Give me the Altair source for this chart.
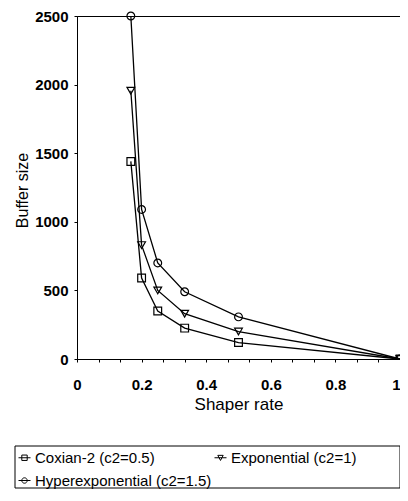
import altair as alt
import pandas as pd

# ---- data ----
shaper_rate = [1/6, 0.2, 0.25, 1/3, 0.5, 1.0]
coxian = [1440, 590, 350, 225, 120, 0]
exponential = [1955, 830, 500, 330, 200, 0]
hyperexp = [2500, 1090, 700, 490, 307, 0]

series_names = ["Coxian-2 (c2=0.5)", "Exponential (c2=1)", "Hyperexponential (c2=1.5)"]
x_ticks = [0, 1/15, 2/15, 0.2, 4/15, 5/15, 0.4, 7/15, 8/15, 0.6, 10/15, 11/15, 0.8, 13/15, 14/15, 1]
y_ticks = [0, 500, 1000, 1500, 2000, 2500]

rows = []
for name, vals in zip(series_names, [coxian, exponential, hyperexp]):
    for xv, yv in zip(shaper_rate, vals):
        rows.append({"rate": xv, "size": yv, "series": name})
df = pd.DataFrame(rows)

PLOT_W = 323
PLOT_H = 343

x_enc = alt.X("rate:Q", scale=alt.Scale(domain=[0, 1], nice=False),
              axis=alt.Axis(title="Shaper rate", values=x_ticks,
                            labelExpr="abs(datum.value*5 - round(datum.value*5)) < 0.001 ? format(datum.value, '~g') : ''",
                            labelAlign={"condition": {"test": "datum.value > 0.99", "value": "right"},
                                        "value": "center"},
                            labelOverlap=False,
                            tickSize=3, labelPadding=15, labelFontSize=15, labelFontWeight="bold",
                            titleFontSize=17, titleFontWeight="normal", titleY=37, titleBaseline="top",
                            grid=False, domainColor="black", tickColor="black", labelColor="black",
                            titleColor="black", labelFlush=False))
y_enc = alt.Y("size:Q", scale=alt.Scale(domain=[0, 2500], nice=False),
              axis=alt.Axis(title="Buffer size", values=y_ticks, format="d", labelOverlap=False,
                            tickSize=3, labelPadding=6,
                            labelFontSize=15, labelFontWeight="bold", titleFontSize=16,
                            titleFontWeight="normal", titleX=-55, titleY=174, titleAlign="center",
                            titleBaseline="middle", titleAngle=270, labelFlush=False,
                            grid=False, domainColor="black", tickColor="black", labelColor="black",
                            titleColor="black"))

base = alt.Chart(df).encode(x=x_enc, y=y_enc)

lines = base.mark_line(color="black", strokeWidth=1.3).encode(detail="series:N", order="rate:Q")

shape_enc = alt.Shape("series:N", scale=alt.Scale(domain=series_names,
                                                  range=["square", "triangle-down", "circle"]),
                      legend=None)

points_inner = base.transform_filter("datum.rate < 0.99").mark_point(
    filled=False, color="black", strokeWidth=1.2, size=60, opacity=1).encode(shape=shape_enc)
# markers on the right edge are cut by the plot frame, as in the reference
points_edge = base.transform_filter("datum.rate >= 0.99").mark_point(
    filled=False, color="black", strokeWidth=1.2, size=60, opacity=1, clip=True).encode(shape=shape_enc)

# legend entries are laid out column by column, so order them to read row by row
legend_order = [series_names[0], series_names[2], series_names[1]]
legend_paths = [
    "M-1,0H1M-0.45,-0.45H0.45V0.45H-0.45Z",
    "M-1,0H1M0.45,0A0.45,0.45 0 1,1 -0.45,0A0.45,0.45 0 1,1 0.45,0Z",
    "M-1,0H1M-0.45,-0.4L0.45,-0.4L0,0.45Z",
]

legend_layer = base.transform_filter("false").mark_point(filled=False, color="black", opacity=1).encode(
    shape=alt.Shape("series:N", scale=alt.Scale(domain=legend_order, range=legend_paths),
                    legend=alt.Legend(title=None, orient="none", legendX=-60, legendY=434,
                                      columns=2, columnPadding=0, rowPadding=7, padding=0,
                                      symbolSize=144, symbolStrokeColor="black",
                                      symbolFillColor="transparent", symbolStrokeWidth=1,
                                      symbolOpacity=1,
                                      labelFontSize=15, labelOffset=3, labelLimit=400,
                                      labelColor="black", gridAlign="each")))

box = alt.Chart(pd.DataFrame({"k": [0]})).mark_rect(fill=None, stroke="black", strokeWidth=1).encode(
    x=alt.value(-62), x2=alt.value(PLOT_W), y=alt.value(430), y2=alt.value(472))

chart = alt.layer(lines, points_inner, points_edge, legend_layer, box).resolve_scale(
    shape="independent").resolve_legend(shape="independent").properties(
    width=PLOT_W, height=PLOT_H,
    autosize=alt.AutoSizeParams(type="none"),
    padding={"left": 69, "top": 8, "right": 0, "bottom": 130},
).configure(font="Liberation Sans").configure_view(stroke="black", strokeWidth=1
).configure_axis(labelOverlap=False)

chart.save("out.html", embed_options={"renderer": "svg", "actions": False})
